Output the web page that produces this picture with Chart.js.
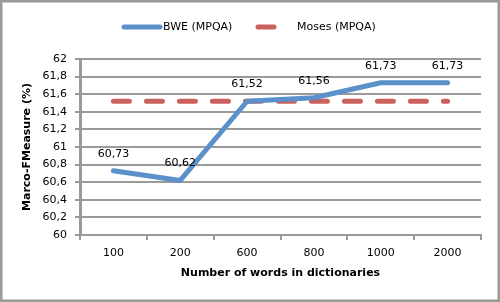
<!DOCTYPE html>
<html>
<head>
<meta charset="utf-8">
<script src="https://cdn.jsdelivr.net/npm/chart.js@4"></script>
<style>
html,body{margin:0;padding:0;background:#fff;}
#wrap{width:500px;height:302px;position:relative;}
</style>
</head>
<body>
<div id="wrap"><canvas id="c" width="500" height="302"></canvas></div>
<script>
const categories = ['100', '200', '600', '800', '1000', '2000'];
const bweValues = [60.73, 60.62, 61.52, 61.56, 61.73, 61.73];
const mosesValues = [61.52, 61.52, 61.52, 61.52, 61.52, 61.52];
const seriesNames = ['BWE (MPQA)', 'Moses (MPQA)'];
const yMin = 60, yMax = 62, yStep = 0.2;
const xTitle = 'Number of words in dictionaries';
const yTitle = 'Marco-FMeasure (%)';

const BLUE = '#5A91CB';
const RED = '#C9615C';
const GRID = '#9A9A9A';
const FONT = 'DejaVu Sans';

function fmt(v, d) {
  return Number(v.toFixed(d)).toString().replace('.', ',');
}

const framePlugin = {
  id: 'frame',
  afterDraw(chart) {
    const ctx = chart.ctx;
    ctx.save();
    ctx.strokeStyle = GRID;
    ctx.lineWidth = 2.5;
    ctx.strokeRect(1.25, 1.25, chart.width - 2.5, chart.height - 2.5);
    ctx.restore();
  }
};

const valueLabels = {
  id: 'valueLabels',
  afterDatasetsDraw(chart) {
    const ctx = chart.ctx;
    const meta = chart.getDatasetMeta(0);
    ctx.save();
    ctx.font = '11px "' + FONT + '"';
    ctx.fillStyle = '#000';
    ctx.textAlign = 'center';
    ctx.textBaseline = 'middle';
    meta.data.forEach((pt, i) => {
      ctx.fillText(fmt(bweValues[i], 2), pt.x, pt.y - 17);
    });
    ctx.restore();
  }
};

const customLegend = {
  id: 'customLegend',
  afterDraw(chart) {
    const ctx = chart.ctx;
    const y = 27;
    ctx.save();
    ctx.lineWidth = 5;
    ctx.lineCap = 'round';
    ctx.strokeStyle = BLUE;
    ctx.beginPath(); ctx.moveTo(124, y); ctx.lineTo(160, y); ctx.stroke();
    ctx.strokeStyle = RED;
    ctx.beginPath(); ctx.moveTo(258, y); ctx.lineTo(274, y); ctx.stroke();
    ctx.font = '11px "' + FONT + '"';
    ctx.fillStyle = '#000';
    ctx.textAlign = 'left';
    ctx.textBaseline = 'middle';
    ctx.fillText(seriesNames[0], 163, y);
    ctx.fillText(seriesNames[1], 297, y);
    ctx.restore();
  }
};

new Chart(document.getElementById('c'), {
  type: 'line',
  data: {
    labels: categories,
    datasets: [
      {
        label: seriesNames[0],
        data: bweValues,
        borderColor: BLUE,
        backgroundColor: BLUE,
        borderWidth: 5,
        pointRadius: 0,
        borderJoinStyle: 'round',
        borderCapStyle: 'round',
        tension: 0
      },
      {
        label: seriesNames[1],
        data: mosesValues,
        borderColor: RED,
        backgroundColor: RED,
        borderWidth: 5,
        pointRadius: 0,
        borderDash: [16, 17],
        borderCapStyle: 'round',
        tension: 0
      }
    ]
  },
  options: {
    responsive: false,
    animation: false,
    devicePixelRatio: 1,
    layout: { padding: { left: 0, right: 19, top: 59, bottom: 0 } },
    plugins: {
      legend: { display: false },
      tooltip: { enabled: false }
    },
    scales: {
      x: {
        offset: true,
        afterFit(s) { s.height = 67; },
        grid: { display: true, drawOnChartArea: false, offset: true, tickLength: 5, color: GRID, lineWidth: 2 },
        border: { display: true, color: GRID, width: 2 },
        ticks: { color: '#000', font: { family: FONT, size: 11 }, padding: 7, maxRotation: 0 },
        title: { display: true, text: xTitle, color: '#000', font: { family: FONT, size: 11, weight: 'bold' }, padding: { top: 0, bottom: 22 } }
      },
      y: {
        min: yMin,
        max: yMax,
        afterFit(s) { s.width = 80; },
        ticks: {
          stepSize: yStep,
          color: '#000',
          font: { family: FONT, size: 11 },
          padding: 8,
          callback: v => fmt(v, 1)
        },
        grid: { color: GRID, lineWidth: 2, tickLength: 5 },
        border: { display: true, color: GRID, width: 3 },
        title: { display: true, text: yTitle, color: '#000', font: { family: FONT, size: 11, weight: 'bold' }, padding: { top: 21, bottom: 0 } }
      }
    }
  },
  plugins: [framePlugin, valueLabels, customLegend]
});
</script>
</body>
</html>
